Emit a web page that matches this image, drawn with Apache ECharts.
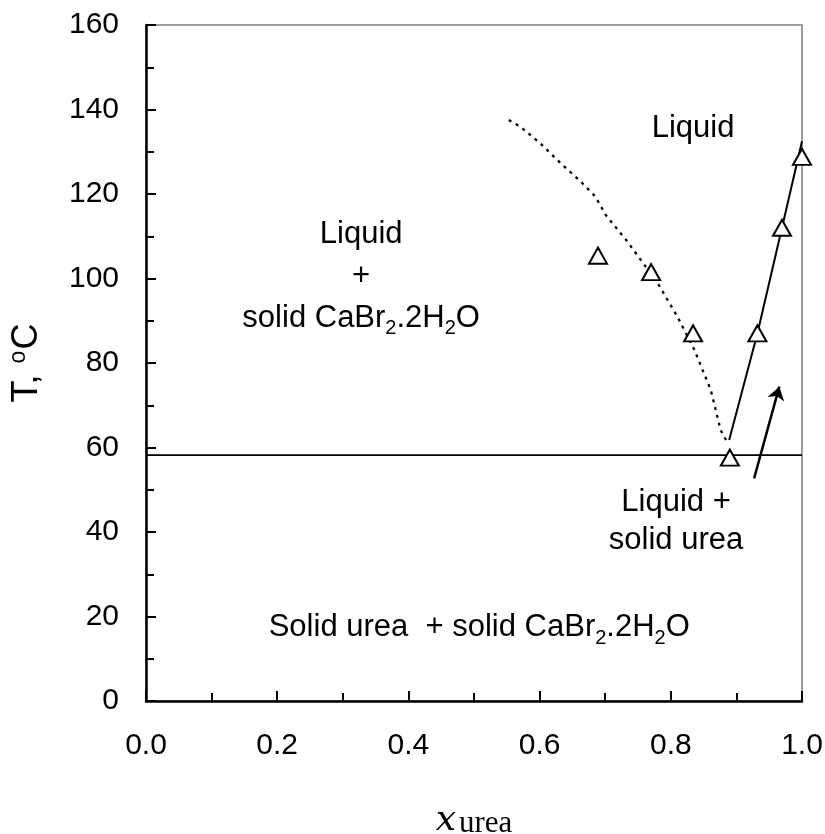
<!DOCTYPE html>
<html><head><meta charset="utf-8">
<script src="https://cdn.jsdelivr.net/npm/echarts@6/dist/echarts.min.js"></script>
<style>html,body{margin:0;padding:0;background:#fff}#c{width:825px;height:834px}</style>
</head><body><div id="c"></div>
<script>
// measured points (triangles)
const measuredX = [0.689, 0.770, 0.834, 0.890, 0.932, 0.9695, 1.0];
const measuredT = [105.4, 101.5, 87.0, 57.6, 87.0, 112.0, 128.8];
// dotted liquidus (CaBr2.2H2O side)
const dottedX = [0.553, 0.571, 0.601, 0.632, 0.663, 0.685, 0.701, 0.734, 0.780, 0.810, 0.836, 0.861, 0.876, 0.887];
const dottedT = [137.5, 135.9, 132.0, 127.3, 122.9, 119.4, 115.0, 108.7, 98.9, 91.0, 83.1, 73.6, 64.1, 61.0];
// solid liquidus (urea side)
const solidX = [0.889, 0.932, 0.9695, 1.0];
const solidT = [61.8, 87.0, 112.0, 132.5];
// eutectic line
const eutecticX = [0, 1];
const eutecticT = [58.2, 58.2];
// arrow
const arrowFrom = [0.927, 52.7];
const arrowTo = [0.9654, 74.4];
// axis ticks
const xTickLabels = ['0.0', '0.2', '0.4', '0.6', '0.8', '1.0'];
const yTickLabels = ['0', '20', '40', '60', '80', '100', '120', '140', '160'];
// region labels
const regionTexts = [
  '{t|Liquid}',
  '{t|Liquid}\n{t|+}\n{t|solid CaBr}{s|2}{t|.2H}{s|2}{t|O}',
  '{u|Liquid +}\n{u|solid urea}',
  '{t|Solid urea  + solid CaBr}{s|2}{t|.2H}{s|2}{t|O}'
];
const regionX = [0.834, 0.328, 0.808, 0.508];
const regionT = [135.6, 100.6, 42.6, 17.5];

const FONT = 'Liberation Sans, Arial, sans-serif';
const pairs = (xs, ys) => xs.map((x, i) => [x, ys[i]]);

const chart = echarts.init(document.getElementById('c'), null, {renderer: 'canvas'});
chart.setOption({
  animation: false,
  backgroundColor: '#fff',
  grid: {left: 146, right: 23, top: 25, bottom: 133, outerBoundsMode: 'none', containLabel: false,
    show: true, borderColor: '#808080', borderWidth: 1.5, backgroundColor: 'transparent'},
  xAxis: {
    type: 'value', min: 0, max: 1, interval: 0.2,
    axisLine: {show: true, onZero: false, lineStyle: {color: '#000', width: 2.5}},
    axisTick: {show: true, inside: true, length: 10, lineStyle: {color: '#000', width: 2}},
    minorTick: {show: true, splitNumber: 2, length: 8, lineStyle: {color: '#000', width: 2}},
    splitLine: {show: false},
    axisLabel: {margin: 30, fontSize: 30, fontFamily: FONT, color: '#000',
      formatter: (v) => xTickLabels[Math.round(v / 0.2)]},
    name: '{x|x}{u|urea}',
    nameLocation: 'middle', nameGap: 94,
    nameTextStyle: {color: '#000', rich: {
      x: {fontFamily: 'DejaVu Serif, serif', fontStyle: 'italic', fontSize: 36, color: '#000', lineHeight: 44, verticalAlign: 'bottom'},
      u: {fontFamily: 'Liberation Serif, serif', fontSize: 31, color: '#000', lineHeight: 30, verticalAlign: 'bottom', padding: [0, 0, 0, 3]}
    }}
  },
  yAxis: {
    type: 'value', min: 0, max: 160, interval: 20,
    axisLine: {show: true, onZero: false, lineStyle: {color: '#000', width: 2.5}},
    axisTick: {show: true, inside: true, length: 10, lineStyle: {color: '#000', width: 2}},
    minorTick: {show: true, splitNumber: 2, length: 8, lineStyle: {color: '#000', width: 2}},
    splitLine: {show: false},
    axisLabel: {margin: 27, fontSize: 30, fontFamily: FONT, color: '#000',
      formatter: (v) => yTickLabels[Math.round(v / 20)]},
    name: '{a|T, }{o|o}{a|C}',
    nameLocation: 'middle', nameGap: 99, nameRotate: 90,
    nameTextStyle: {color: '#000', rich: {
      a: {fontFamily: FONT, fontSize: 36, color: '#000', lineHeight: 40},
      o: {fontFamily: FONT, fontSize: 23, color: '#000', lineHeight: 40, verticalAlign: 'top', padding: [0, 1, 14, 1]}
    }}
  },
  series: [
    {type: 'line', data: pairs(eutecticX, eutecticT), symbol: 'none', lineStyle: {color: '#000', width: 1.8}, z: 2},
    {type: 'line', data: pairs(dottedX, dottedT), symbol: 'none', smooth: false,
      lineStyle: {color: '#000', width: 2.3, type: [3, 5]}, z: 2},
    {type: 'line', data: pairs(solidX, solidT), symbol: 'none', lineStyle: {color: '#000', width: 2}, z: 2,
      markLine: {silent: true, symbol: ['none', 'arrow'], symbolSize: 13, label: {show: false},
        lineStyle: {color: '#000', width: 2.5, type: 'solid'},
        emphasis: {disabled: true},
        data: [[{coord: arrowFrom}, {coord: arrowTo}]]}},
    {type: 'scatter', data: pairs(measuredX, measuredT), symbol: 'triangle', symbolSize: [18, 16],
      itemStyle: {color: '#fff', borderColor: '#000', borderWidth: 2, opacity: 1}, z: 5},
    {type: 'scatter', silent: true, symbolSize: 0, z: 6, clip: false,
      itemStyle: {opacity: 1},
      data: regionX.map((x, i) => ({value: [x, regionT[i]], label: {formatter: regionTexts[i]}})),
      label: {show: true, position: 'inside', align: 'center', verticalAlign: 'middle', color: '#000',
        textBorderWidth: 0, opacity: 1,
        rich: {
          t: {fontFamily: FONT, fontSize: 31, color: '#000', lineHeight: 42},
          u: {fontFamily: FONT, fontSize: 31, color: '#000', lineHeight: 38},
          s: {fontFamily: FONT, fontSize: 20, color: '#000', lineHeight: 23, verticalAlign: 'bottom'}
        }}}
  ]
});
</script></body></html>
